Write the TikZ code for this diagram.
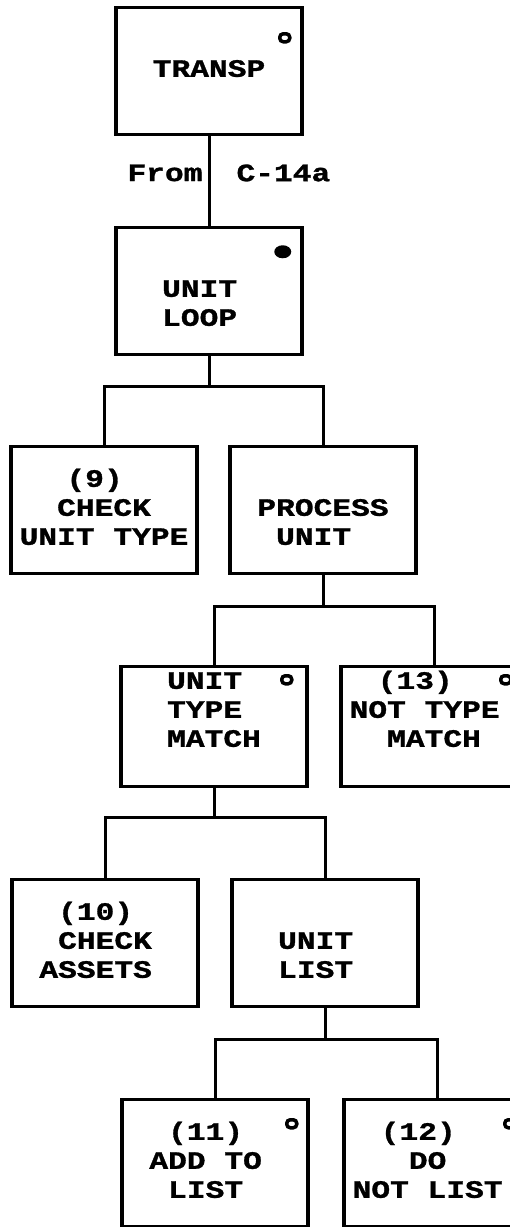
\documentclass[tikz,border=0pt]{standalone}
\usepackage{fontspec}
\newfontfamily\termfont[FakeStretch=1.25, FakeBold=1.2]{Liberation Mono}
\usetikzlibrary{positioning,shapes.geometric}
\newcommand\pad{\phantom{X}}

\begin{document}
\begin{tikzpicture}[
  x=1pt, y=-1pt,
  box/.style={rectangle, draw, line width=3.5pt, minimum width=186pt, minimum height=127pt,
    inner sep=0pt, align=center, font=\termfont\bfseries\fontsize{25}{29}\selectfont},
  lowbox/.style={box, minimum height=120pt},
  openmark/.style={rectangle, draw, rounded corners=3.5pt, line width=3.5pt, minimum width=10pt,
    minimum height=8pt, inner sep=0pt},
  dotmark/.style={ellipse, fill, minimum width=17pt, minimum height=13pt, inner sep=0pt},
  tag/.style={font=\termfont\bfseries\fontsize{25}{29}\selectfont, inner sep=0pt},
  edge/.style={line width=3pt},
  node distance=89.5pt
]
  \useasboundingbox (0,0) rectangle (510,1227);
  \node[box] (transp) at (209,71) {\strut TRANSP};
  \node[box, below=of transp] (loop) {\strut\\\strut UNIT\pad\\\strut LOOP\pad};
  \node[box, below=88.5pt of loop, xshift=-105pt] (chk9) {\strut(9)\pad\\\strut CHECK\\\strut UNIT~TYPE};
  \node[box, right=29.5pt of chk9] (proc) {\strut\\\strut PROCESS\\\strut UNIT\pad};
  \node[lowbox, below=of proc, xshift=-109pt] (utm) {\strut UNIT\pad\\\strut TYPE\pad\\\strut MATCH\\\strut};
  \node[lowbox, right=30.5pt of utm] (ntm) {\strut(13)\pad\pad\\\strut NOT~TYPE\pad\\\strut MATCH\\\strut};
  \node[box, below=of utm, xshift=-109pt] (chk10) {\strut(10)\pad\\\strut CHECK\\\strut ASSETS\pad};
  \node[box, right=30.5pt of chk10] (ulist) {\strut\\\strut UNIT\pad\\\strut LIST\pad};
  \node[box, below=of ulist, xshift=-110pt] (add) {\strut(11)\pad\\\strut ADD~TO\pad\\\strut LIST\pad};
  \node[box, right=32.5pt of add] (dnl) {\strut(12)\pad\pad\\\strut DO\pad\\\strut NOT~LIST\pad};
  % status marks
  \node[openmark] (transp-o) at ([xshift=-19pt, yshift=-32pt]transp.north east) {};
  \node[dotmark] (loop-o) at ([xshift=-21pt, yshift=-26pt]loop.north east) {};
  \node[openmark] (utm-o) at ([xshift=-22pt, yshift=-15pt]utm.north east) {};
  \node[openmark] (ntm-o) at ([xshift=-23pt, yshift=-15pt]ntm.north east) {};
  \node[openmark] (add-o) at ([xshift=-18pt, yshift=-26pt]add.north east) {};
  \node[openmark] (dnl-o) at ([xshift=-22pt, yshift=-26pt]dnl.north east) {};
  % links
  \draw[edge] (transp) -- node[tag, pos=0.41, left=5pt] (from) {From}
    node[tag, pos=0.41, right=26pt] (origin) {C-14a} (loop);
  \draw[edge] (loop.south) -- ++(0,30) coordinate (j1);
  \draw[edge] (chk9.north) |- (j1) -| (proc.north);
  \draw[edge] (proc.south) -- ++(0,31) coordinate (j2);
  \draw[edge] (utm.north) |- (j2) -| (ntm.north);
  \draw[edge] (utm.south) -- ++(0,29) coordinate (j3);
  \draw[edge] (chk10.north) |- (j3) -| (ulist.north);
  \draw[edge] (ulist.south) -- ++(0,31) coordinate (j4);
  \draw[edge] (add.north) |- (j4) -| (dnl.north);
\end{tikzpicture}
\end{document}
